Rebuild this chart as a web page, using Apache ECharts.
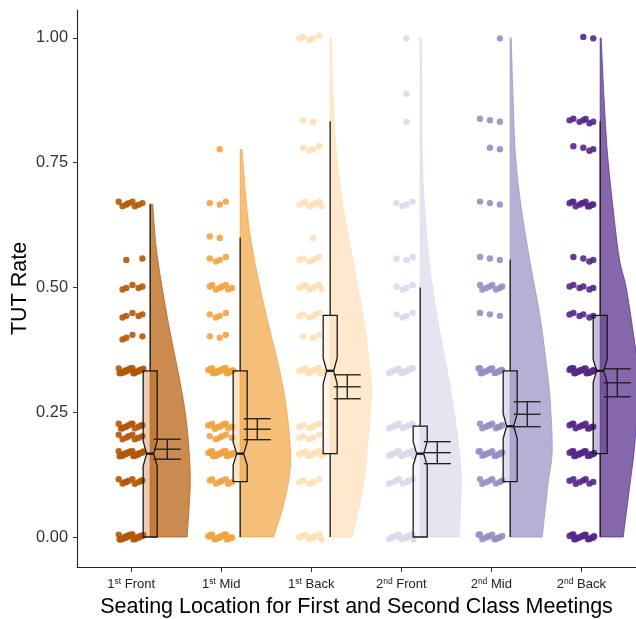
<!DOCTYPE html>
<html><head><meta charset="utf-8">
<script src="https://cdn.jsdelivr.net/npm/echarts@6/dist/echarts.min.js"></script>
<style>html,body{margin:0;padding:0;background:#fff}#c{width:636px;height:619px}</style>
</head><body><div id="c"></div>
<script>
// ---------- data ----------
const categories = ['1st Front', '1st Mid', '1st Back', '2nd Front', '2nd Mid', '2nd Back'];
const catNum = ['1', '1', '1', '2', '2', '2'];
const catSup = ['st', 'st', 'st', 'nd', 'nd', 'nd'];
const catWord = ['Front', 'Mid', 'Back', 'Front', 'Mid', 'Back'];
const colors = ['#B35806', '#F1A340', '#FEE0B6', '#D8DAEB', '#998EC3', '#542788'];
const yTicks = [0, 0.25, 0.5, 0.75, 1];
const xTicks = [1, 2, 3, 4, 5, 6];

// boxplot statistics
const q1 = [0, 0.111, 0.167, 0, 0.111, 0.167];
const median = [0.167, 0.167, 0.333, 0.167, 0.222, 0.333];
const q3 = [0.333, 0.333, 0.444, 0.222, 0.333, 0.444];
const whiskerLow = [0, 0, 0, 0, 0, 0];
const whiskerHigh = [0.667, 0.6, 0.833, 0.5, 0.556, 0.833];
const notchHalf = [0.025, 0.023, 0.026, 0.024, 0.025, 0.023];

// mean and error
const means = [0.176, 0.216, 0.301, 0.169, 0.246, 0.309];
const errs = [0.020, 0.021, 0.024, 0.022, 0.025, 0.028];

// raw observations: [value, count]
const pts1stFront = [[0,22],[0.111,10],[0.167,22],[0.2,8],[0.222,12],[0.333,22],[0.4,4],[0.444,5],[0.5,5],[0.556,2],[0.667,8]];
const pts1stMid = [[0,16],[0.111,8],[0.167,20],[0.2,6],[0.222,12],[0.333,22],[0.4,3],[0.444,4],[0.5,8],[0.556,4],[0.6,2],[0.667,3],[0.778,1]];
const pts1stBack = [[0,10],[0.111,5],[0.167,14],[0.2,5],[0.222,6],[0.333,18],[0.4,3],[0.444,6],[0.5,10],[0.556,6],[0.6,1],[0.667,8],[0.778,4],[0.833,2],[1,5]];
const pts2ndFront = [[0,16],[0.111,8],[0.167,16],[0.222,10],[0.333,14],[0.444,4],[0.5,4],[0.556,3],[0.667,4],[0.833,1],[0.889,1],[1,1]];
const pts2ndMid = [[0,12],[0.111,8],[0.167,14],[0.222,10],[0.333,16],[0.444,3],[0.5,8],[0.556,3],[0.667,3],[0.778,2],[0.833,3],[1,1]];
const pts2ndBack = [[0,16],[0.111,8],[0.167,18],[0.222,12],[0.333,22],[0.444,6],[0.5,6],[0.556,4],[0.667,12],[0.778,4],[0.833,7],[1,2]];
const pointSets = [pts1stFront, pts1stMid, pts1stBack, pts2ndFront, pts2ndMid, pts2ndBack];

// half-violin density profile (half-width in x-axis units at given y)
const violinY1 = [0, 0.1, 0.17, 0.25, 0.33, 0.42, 0.5, 0.58, 0.667];
const violinW1 = [0.411, 0.444, 0.433, 0.389, 0.311, 0.211, 0.133, 0.067, 0.028];
const violinY2 = [0, 0.07, 0.15, 0.25, 0.333, 0.4, 0.5, 0.6, 0.667, 0.72, 0.777];
const violinW2 = [0.37, 0.49, 0.56, 0.52, 0.44, 0.35, 0.22, 0.115, 0.07, 0.045, 0.02];
const violinY3 = [0, 0.1, 0.175, 0.275, 0.333, 0.44, 0.55, 0.675, 0.775, 0.876, 1.0];
const violinW3 = [0.244, 0.367, 0.411, 0.456, 0.444, 0.367, 0.256, 0.133, 0.067, 0.033, 0.011];
const violinY4 = [0, 0.108, 0.174, 0.275, 0.333, 0.44, 0.55, 0.675, 0.775, 0.9, 1.0];
const violinW4 = [0.433, 0.456, 0.433, 0.356, 0.3, 0.189, 0.1, 0.044, 0.022, 0.017, 0.011];
const violinY5 = [0, 0.108, 0.174, 0.275, 0.333, 0.44, 0.55, 0.675, 0.775, 0.876, 1.0];
const violinW5 = [0.356, 0.422, 0.467, 0.444, 0.411, 0.333, 0.222, 0.111, 0.056, 0.033, 0.011];
const violinY6 = [0, 0.108, 0.174, 0.275, 0.333, 0.41, 0.5, 0.56, 0.675, 0.775, 0.876, 1.0];
const violinW6 = [0.256, 0.333, 0.378, 0.422, 0.422, 0.367, 0.289, 0.211, 0.133, 0.078, 0.044, 0.011];
const violinYs = [violinY1, violinY2, violinY3, violinY4, violinY5, violinY6];
const violinWs = [violinW1, violinW2, violinW3, violinW4, violinW5, violinW6];

// ---------- layout constants ----------
const BOX_OFF = 0.21, BOX_HALF = 0.078, ERR_OFF = 0.40, ERR_HALF = 0.15;
const FONT = '"Liberation Sans", Arial, Helvetica, sans-serif';
const INK = '#1a1a1a';

function hexA(hex, a) {
  const n = parseInt(hex.slice(1), 16);
  return `rgba(${n >> 16},${(n >> 8) & 255},${n & 255},${a})`;
}
function frac(v) { return v - Math.floor(v); }

// build point rows
const pointRows = [];
pointSets.forEach((set, i) => {
  set.forEach(([v, n]) => {
    for (let k = 0; k < n; k++) pointRows.push([i + 1, v, k, i]);
  });
});
const catRows = categories.map((c, i) => [i + 1, median[i], i]);

const chart = echarts.init(document.getElementById('c'), null, { renderer: 'canvas' });

function renderViolin(params, api) {
  const i = params.dataIndex;
  const ys = violinYs[i], ws = violinWs[i];
  const x0 = i + 1 + BOX_OFF;
  const b0 = api.coord([x0, ys[0]]);
  const bt = api.coord([x0, ys[ys.length - 1]]);
  const P = ys.map((y, k) => api.coord([x0 + ws[k], y]));
  let d = `M${b0[0]},${b0[1]} L${P[0][0]},${P[0][1]}`;
  for (let k = 0; k < P.length - 1; k++) {
    const p0 = P[k - 1] || P[k], p1 = P[k], p2 = P[k + 1], p3 = P[k + 2] || P[k + 1];
    const c1 = [p1[0] + (p2[0] - p0[0]) / 6, p1[1] + (p2[1] - p0[1]) / 6];
    const c2 = [p2[0] - (p3[0] - p1[0]) / 6, p2[1] - (p3[1] - p1[1]) / 6];
    d += ` C${c1[0]},${c1[1]} ${c2[0]},${c2[1]} ${p2[0]},${p2[1]}`;
  }
  d += ` L${bt[0]},${bt[1]} Z`;
  return {
    type: 'path',
    shape: { pathData: d },
    style: { fill: hexA(colors[i], 0.7), stroke: hexA(colors[i], 0.9), lineWidth: 0.8 }
  };
}

function renderPoint(params, api) {
  const c = api.coord([api.value(0), api.value(1)]);
  const k = api.value(2), i = api.value(3);
  const dx = (frac(k * 0.618034 + 0.31 + i * 0.13) - 0.5) * 2 * 13;
  const dy = (frac(k * 0.7548777 + 0.57) - 0.5) * 2 * 3;
  return {
    type: 'circle',
    shape: { cx: c[0] + dx, cy: c[1] + dy, r: 3.2 },
    style: { fill: hexA(colors[i], 0.9) }
  };
}

function renderBox(params, api) {
  const i = params.dataIndex;
  const xc = i + 1 + BOX_OFF, hw = BOX_HALF, nw = BOX_HALF * 0.5;
  const m = median[i], nh = notchHalf[i];
  const poly = [
    [xc - hw, q3[i]], [xc + hw, q3[i]], [xc + hw, m + nh], [xc + nw, m], [xc + hw, m - nh],
    [xc + hw, q1[i]], [xc - hw, q1[i]], [xc - hw, m - nh], [xc - nw, m], [xc - hw, m + nh]
  ].map(p => api.coord(p));
  const children = [];
  const wTop = api.coord([xc, whiskerHigh[i]]), qTop = api.coord([xc, q3[i]]);
  children.push({ type: 'line', shape: { x1: wTop[0], y1: wTop[1], x2: qTop[0], y2: qTop[1] }, style: { stroke: INK, lineWidth: 1.3 } });
  if (whiskerLow[i] < q1[i]) {
    const wLo = api.coord([xc, whiskerLow[i]]), qLo = api.coord([xc, q1[i]]);
    children.push({ type: 'line', shape: { x1: wLo[0], y1: wLo[1], x2: qLo[0], y2: qLo[1] }, style: { stroke: INK, lineWidth: 1.3 } });
  }
  children.push({ type: 'polygon', shape: { points: poly }, style: { fill: hexA(colors[i], 0.3), stroke: INK, lineWidth: 1.3 } });
  const ml = api.coord([xc - nw, m]), mr = api.coord([xc + nw, m]);
  children.push({ type: 'line', shape: { x1: ml[0], y1: ml[1], x2: mr[0], y2: mr[1] }, style: { stroke: INK, lineWidth: 2.4 } });
  return { type: 'group', children };
}

function renderErr(params, api) {
  const i = params.dataIndex;
  const xc = i + 1 + ERR_OFF;
  const children = [];
  [means[i] - errs[i], means[i], means[i] + errs[i]].forEach(v => {
    const a = api.coord([xc - ERR_HALF, v]), b = api.coord([xc + ERR_HALF, v]);
    children.push({ type: 'line', shape: { x1: a[0], y1: a[1], x2: b[0], y2: b[1] }, style: { stroke: INK, lineWidth: 1.3 } });
  });
  const t = api.coord([xc, means[i] + errs[i]]), b = api.coord([xc, means[i] - errs[i]]);
  children.push({ type: 'line', shape: { x1: t[0], y1: t[1], x2: b[0], y2: b[1] }, style: { stroke: INK, lineWidth: 1.3 } });
  return { type: 'group', children };
}

const option = {
  animation: false,
  backgroundColor: '#ffffff',
  textStyle: { fontFamily: FONT },
  grid: { left: 77, right: 0, top: 10, bottom: 52, containLabel: false, outerBoundsMode: 'none' },
  xAxis: {
    type: 'value', min: 0.397, max: 6.608,
    name: 'Seating Location for First and Second Class Meetings',
    nameLocation: 'middle', nameGap: 29, nameMoveOverlap: false,
    nameTextStyle: { fontSize: 21.5, color: '#000', fontFamily: FONT },
    axisLine: { show: true, onZero: false, lineStyle: { color: '#222', width: 1.1 } },
    axisTick: { show: true, customValues: xTicks, length: 5, lineStyle: { color: '#333' } },
    splitLine: { show: false },
    axisLabel: {
      customValues: xTicks, margin: 10, color: '#222',
      formatter: v => { const i = Math.round(v) - 1; return `{n|${catNum[i]}}{s|${catSup[i]}}{t| ${catWord[i]}}`; },
      rich: {
        n: { fontSize: 13, lineHeight: 15, color: '#222', fontFamily: FONT },
        s: { fontSize: 8.5, lineHeight: 9, verticalAlign: 'top', color: '#222', fontFamily: FONT },
        t: { fontSize: 13, lineHeight: 15, color: '#222', fontFamily: FONT }
      }
    }
  },
  yAxis: {
    type: 'value', min: -0.0601, max: 1.056,
    name: 'TUT Rate', nameLocation: 'middle', nameGap: 46, nameRotate: 90, nameMoveOverlap: false,
    nameTextStyle: { fontSize: 21.5, color: '#000', fontFamily: FONT },
    axisLine: { show: true, onZero: false, lineStyle: { color: '#222', width: 1.1 } },
    axisTick: { show: true, customValues: yTicks, length: 4, lineStyle: { color: '#333' } },
    splitLine: { show: false },
    axisLabel: { customValues: yTicks, margin: 9, fontSize: 16.4, color: '#333', formatter: v => v.toFixed(2) }
  },
  series: [
    { type: 'custom', name: 'violin', renderItem: renderViolin, data: catRows, z: 1, silent: true },
    { type: 'custom', name: 'points', renderItem: renderPoint, data: pointRows, z: 2, silent: true },
    { type: 'custom', name: 'box', renderItem: renderBox, data: catRows, z: 3, silent: true },
    { type: 'custom', name: 'mean', renderItem: renderErr, data: catRows, z: 4, silent: true }
  ]
};
chart.setOption(option);
</script>
</body></html>
